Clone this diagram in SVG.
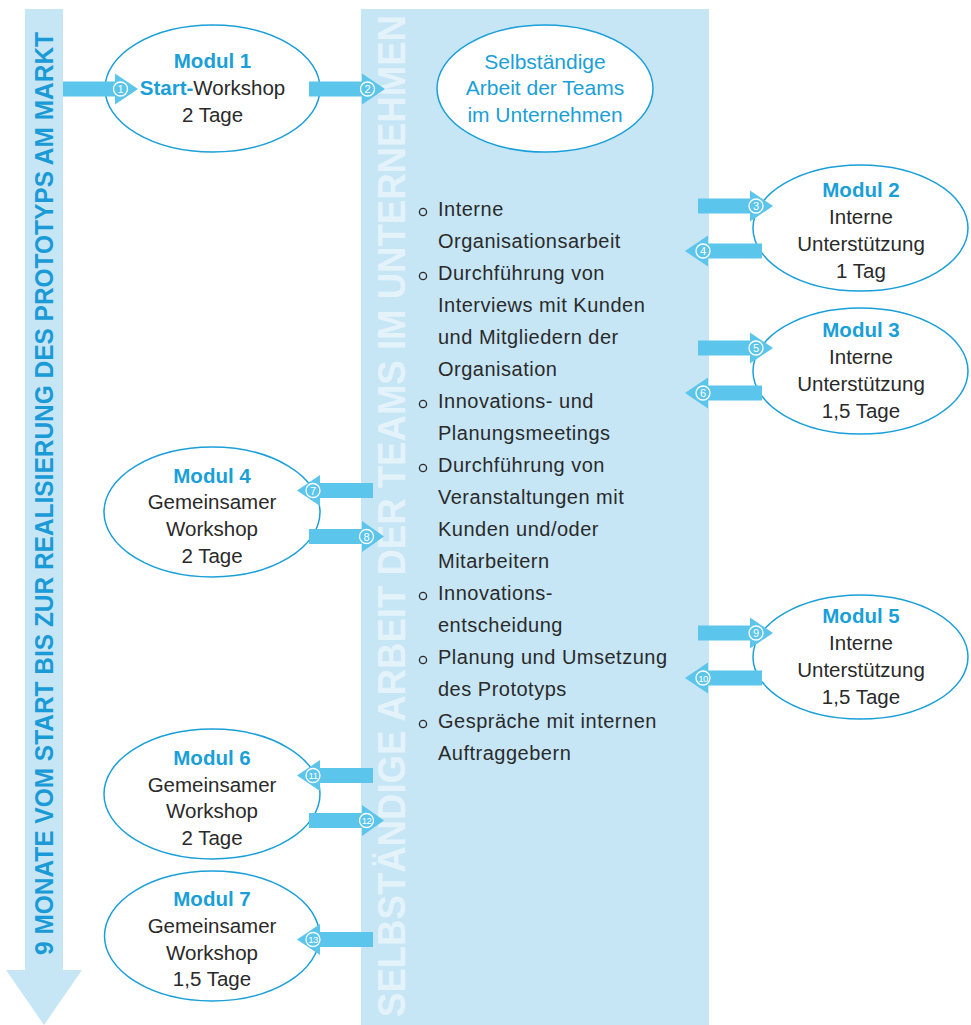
<svg xmlns="http://www.w3.org/2000/svg" width="971" height="1025" viewBox="0 0 971 1025">
<style>
.bg{fill:#c6e6f6}
.node ellipse{fill:#fff;stroke:#1a9fd9;stroke-width:1.5}
.t{font-family:"Liberation Sans",Arial,sans-serif;font-size:20.5px;fill:#2a2a2a;text-anchor:middle}
.h{font-weight:bold;fill:#1a9fd9}
.b{fill:#1a9fd9;font-size:21px}
.li{font-family:"Liberation Sans",Arial,sans-serif;font-size:20px;letter-spacing:0.5px;fill:#2a2a2a}
.dot{fill:none;stroke:#2a2a2a;stroke-width:1.3}
.arr path{fill:#5bc5ec}
.arr circle{fill:none;stroke:#fff;stroke-width:1.3}
.arr text{font-family:"Liberation Sans",Arial,sans-serif;font-size:11px;fill:#fff;text-anchor:middle}
.arr text.d{font-size:9.5px;letter-spacing:-0.5px}
</style>
<rect class="bg" x="25" y="9" width="38" height="962"/>
<polygon class="bg" points="6,970 82,970 44,1025"/>
<text transform="translate(53,955) rotate(-90)" font-family="Liberation Sans,Arial,sans-serif" font-weight="bold" font-size="25" fill="#1a9ad6" textLength="923" lengthAdjust="spacingAndGlyphs">9 MONATE VOM START BIS ZUR REALISIERUNG DES PROTOTYPS AM MARKT</text>
<rect class="bg" x="361" y="9" width="348" height="1016"/>
<text transform="translate(405,1017) rotate(-90)" font-family="Liberation Sans,Arial,sans-serif" font-weight="bold" font-size="39" fill="#ffffff" fill-opacity="0.55" textLength="1002" lengthAdjust="spacingAndGlyphs">SELBSTÄNDIGE ARBEIT DER TEAMS IM UNTERNEHMEN</text>

<g id="teams" class="node">
<ellipse cx="545" cy="88.5" rx="108" ry="63.5"/>
<text class="t b" x="545" y="69">Selbständige</text>
<text class="t b" x="545" y="95">Arbeit der Teams</text>
<text class="t b" x="545" y="122">im Unternehmen</text>
</g>
<g id="tasks">
<g class="dot">
<circle cx="423" cy="212" r="3.6"/><circle cx="423" cy="276" r="3.6"/><circle cx="423" cy="404" r="3.6"/><circle cx="423" cy="468" r="3.6"/><circle cx="423" cy="596" r="3.6"/><circle cx="423" cy="660" r="3.6"/><circle cx="423" cy="724" r="3.6"/>
</g>
<text class="li" x="438" y="216">Interne</text>
<text class="li" x="438" y="248">Organisationsarbeit</text>
<text class="li" x="438" y="280">Durchführung von</text>
<text class="li" x="438" y="312">Interviews mit Kunden</text>
<text class="li" x="438" y="344">und Mitgliedern der</text>
<text class="li" x="438" y="376">Organisation</text>
<text class="li" x="438" y="408">Innovations- und</text>
<text class="li" x="438" y="440">Planungsmeetings</text>
<text class="li" x="438" y="472">Durchführung von</text>
<text class="li" x="438" y="504">Veranstaltungen mit</text>
<text class="li" x="438" y="536">Kunden und/oder</text>
<text class="li" x="438" y="568">Mitarbeitern</text>
<text class="li" x="438" y="600">Innovations-</text>
<text class="li" x="438" y="632">entscheidung</text>
<text class="li" x="438" y="664">Planung und Umsetzung</text>
<text class="li" x="438" y="696">des Prototyps</text>
<text class="li" x="438" y="728">Gespräche mit internen</text>
<text class="li" x="438" y="760">Auftraggebern</text>
</g>

<g id="modul1" class="node">
<ellipse cx="212.5" cy="88.5" rx="107.5" ry="63.5"/>
<text class="t h" x="212.5" y="68">Modul 1</text>
<text class="t" x="212.5" y="95"><tspan class="h">Start-</tspan>Workshop</text>
<text class="t" x="212.5" y="122">2 Tage</text>
</g>
<g id="modul2" class="node">
<ellipse cx="860.5" cy="228" rx="107.5" ry="63"/>
<text class="t h" x="861" y="197">Modul 2</text>
<text class="t" x="861" y="224">Interne</text>
<text class="t" x="861" y="251">Unterstützung</text>
<text class="t" x="861" y="278">1 Tag</text>
</g>
<g id="modul3" class="node">
<ellipse cx="860.5" cy="371" rx="107.5" ry="63"/>
<text class="t h" x="861" y="337">Modul 3</text>
<text class="t" x="861" y="364">Interne</text>
<text class="t" x="861" y="391">Unterstützung</text>
<text class="t" x="861" y="418">1,5 Tage</text>
</g>
<g id="modul4" class="node">
<ellipse cx="212" cy="512" rx="108" ry="65"/>
<text class="t h" x="212" y="483">Modul 4</text>
<text class="t" x="212" y="509">Gemeinsamer</text>
<text class="t" x="212" y="536">Workshop</text>
<text class="t" x="212" y="563">2 Tage</text>
</g>
<g id="modul5" class="node">
<ellipse cx="860.5" cy="657" rx="107.5" ry="62"/>
<text class="t h" x="861" y="623">Modul 5</text>
<text class="t" x="861" y="650">Interne</text>
<text class="t" x="861" y="677">Unterstützung</text>
<text class="t" x="861" y="704">1,5 Tage</text>
</g>
<g id="modul6" class="node">
<ellipse cx="212" cy="794" rx="108" ry="65"/>
<text class="t h" x="212" y="765">Modul 6</text>
<text class="t" x="212" y="792">Gemeinsamer</text>
<text class="t" x="212" y="818">Workshop</text>
<text class="t" x="212" y="845">2 Tage</text>
</g>
<g id="modul7" class="node">
<ellipse cx="212" cy="936" rx="107.5" ry="65"/>
<text class="t h" x="212" y="906">Modul 7</text>
<text class="t" x="212" y="933">Gemeinsamer</text>
<text class="t" x="212" y="960">Workshop</text>
<text class="t" x="212" y="986">1,5 Tage</text>
</g>

<g id="connectors" class="arr">
<path d="M63 81.5H115V73.5L138 89L115 104.5V96.5H63Z"/><circle cx="120.5" cy="89" r="7"/><text x="120.5" y="93">1</text>
<path d="M309 81.5H362V73.5L385 89L362 104.5V96.5H309Z"/><circle cx="367.5" cy="89" r="7"/><text x="367.5" y="93">2</text>
<path d="M698 198.5H750V190.5L773 206L750 221.5V213.5H698Z"/><circle cx="756" cy="206" r="7"/><text x="756" y="210">3</text>
<path d="M762 243.5H708V235.5L685 251L708 266.5V258.5H762Z"/><circle cx="703" cy="251" r="7"/><text x="703" y="255">4</text>
<path d="M698 340.5H750V332.5L773 348L750 363.5V355.5H698Z"/><circle cx="756" cy="348" r="7"/><text x="756" y="352">5</text>
<path d="M762 385.5H708V377.5L685 393L708 408.5V400.5H762Z"/><circle cx="703" cy="393" r="7"/><text x="703" y="397">6</text>
<path d="M373 483H320V475L297 490.5L320 506V498H373Z"/><circle cx="313" cy="490.5" r="7"/><text x="313" y="494.5">7</text>
<path d="M309 529H362V521L384 536.5L362 552V544H309Z"/><circle cx="366.5" cy="536.5" r="7"/><text x="366.5" y="540.5">8</text>
<path d="M698 625.5H750V617.5L773 633L750 648.5V640.5H698Z"/><circle cx="756" cy="633" r="7"/><text x="756" y="637">9</text>
<path d="M762 670.5H708V662.5L685 678L708 693.5V685.5H762Z"/><circle cx="703" cy="678" r="7"/><text class="d" x="703" y="681.5">10</text>
<path d="M373 768H320V760L297 775.5L320 791V783H373Z"/><circle cx="313" cy="775.5" r="7"/><text class="d" x="313" y="779">11</text>
<path d="M309 813H362V805L384 820.5L362 836V828H309Z"/><circle cx="366.5" cy="820.5" r="7"/><text class="d" x="366.5" y="824">12</text>
<path d="M373 932H320V924L297 939.5L320 955V947H373Z"/><circle cx="313" cy="939.5" r="7"/><text class="d" x="313" y="943">13</text>
</g>
</svg>
